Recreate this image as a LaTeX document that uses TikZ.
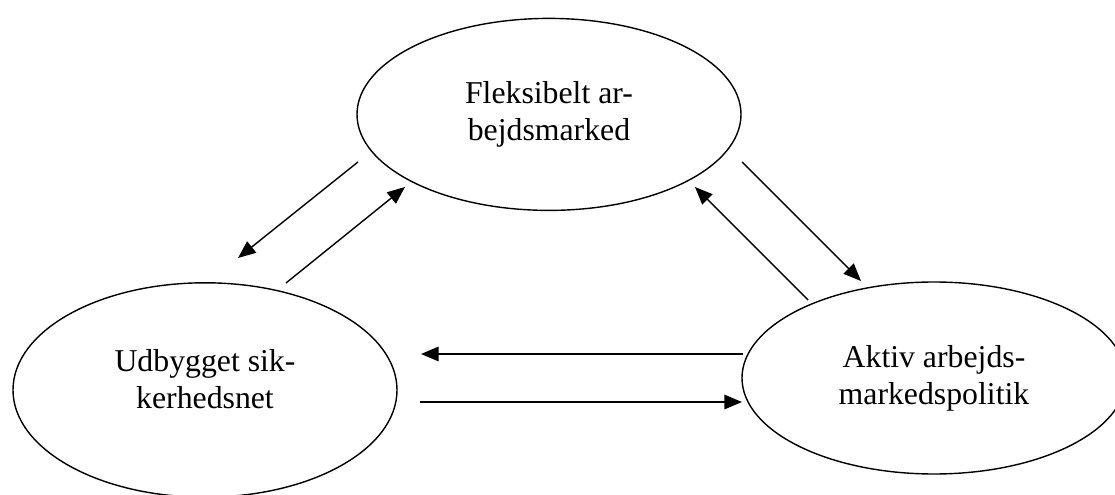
\documentclass[tikz,border=0pt]{standalone}
\usepackage{fontspec}
\setmainfont{Liberation Serif}
\usetikzlibrary{arrows.meta,shapes.geometric}

\begin{document}
\begin{tikzpicture}[
        oval/.style = {draw, ellipse, line width=1pt, minimum width=9.6cm, minimum height=4.8cm, inner sep=0pt, align=center},
        arrow/.style = {-{Triangle[length=0.44cm,width=0.36cm]}, line width=1pt},
        every node/.style = {font=\fontsize{22.6}{26.3}\selectfont}
    ]
    \useasboundingbox (0,0) rectangle (27.875,12.35);
    
    \node[oval] (flex) at (13.725,9.49) {Fleksibelt ar-\\bejdsmarked};
    \node[oval, minimum height=5.36cm, text depth=0.56cm] (net) at (5.125,2.6) {Udbygget sik-\\kerhedsnet};
    \node[oval] (aktiv) at (23.35,2.9) {Aktiv arbejds-\\markedspolitik};
    
    % Arrow ends
    \coordinate (flexout-l) at (8.95,8.30);
    \coordinate (netin-t) at (5.95,5.90);
    \coordinate (netout-t) at (7.15,5.275);
    \coordinate (flexin-l) at (10.125,7.675);
    \coordinate (flexout-r) at (18.55,8.30);
    \coordinate (aktivin-t) at (21.525,5.325);
    \coordinate (aktivout-t) at (20.2,4.85);
    \coordinate (flexin-r) at (17.375,7.675);
    \coordinate (aktivout-l) at (18.575,3.5);
    \coordinate (netin-r) at (10.525,3.5);
    \coordinate (netout-r) at (10.5,2.3);
    \coordinate (aktivin-l) at (18.55,2.3);
    
    % Arrows
    \draw[arrow] (flexout-l) -- (netin-t);
    \draw[arrow] (netout-t) -- (flexin-l);
    \draw[arrow] (flexout-r) -- (aktivin-t);
    \draw[arrow] (aktivout-t) -- (flexin-r);
    \draw[arrow, line width=1.3pt] (aktivout-l) -- (netin-r);
    \draw[arrow, line width=1.3pt] (netout-r) -- (aktivin-l);
    
\end{tikzpicture}
\end{document}
